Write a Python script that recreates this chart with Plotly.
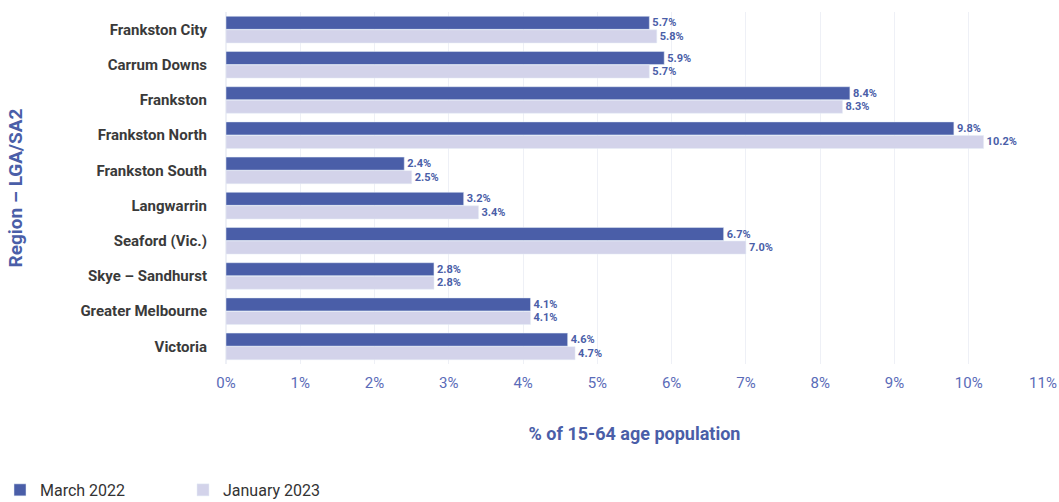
import plotly.graph_objects as go

regions = ["Frankston City", "Carrum Downs", "Frankston", "Frankston North", "Frankston South",
           "Langwarrin", "Seaford (Vic.)", "Skye – Sandhurst", "Greater Melbourne", "Victoria"]
march_2022 = [5.7, 5.9, 8.4, 9.8, 2.4, 3.2, 6.7, 2.8, 4.1, 4.6]
january_2023 = [5.8, 5.7, 8.3, 10.2, 2.5, 3.4, 7.0, 2.8, 4.1, 4.7]
x_ticks = list(range(0, 12))
x_tick_labels = [f"{v}%" for v in x_ticks]

dark = "#4a5ea8"
light = "#d3d3ea"
label_font = dict(family="Roboto", size=11, color=dark, weight="bold")

fig = go.Figure()
fig.add_trace(go.Bar(y=regions, x=march_2022, orientation="h", name="March 2022",
                     marker=dict(color=dark), texttemplate="%{x:.1f}%", textposition="outside",
                     textfont=label_font, cliponaxis=False))
fig.add_trace(go.Bar(y=regions, x=january_2023, orientation="h", name="January 2023",
                     marker=dict(color=light), texttemplate="%{x:.1f}%", textposition="outside",
                     textfont=label_font, cliponaxis=False))

fig.update_layout(
    width=1059, height=502,
    margin=dict(l=226, r=16, t=12, b=138),
    plot_bgcolor="white", paper_bgcolor="white",
    barmode="group", bargap=0.23, bargroupgap=0.04,
    font=dict(family="Roboto"),
    legend=dict(orientation="h", xref="container", yref="container",
                x=-0.017, xanchor="left", y=0.024, yanchor="middle",
                font=dict(family="Roboto", size=16, color="#333333"),
                entrywidth=186 - 48, entrywidthmode="pixels", traceorder="normal"),
    xaxis=dict(range=[0, 11], tickvals=x_ticks, ticktext=x_tick_labels, automargin=False,
               showgrid=True, gridcolor="#eef0f6", zeroline=True, zerolinecolor="#eef0f6",
               tickfont=dict(family="Roboto", size=15, color="#5a6bb8"), ticks="", ticklabelstandoff=8,
               title=dict(text="% of 15-64 age population", standoff=36,
                          font=dict(family="Roboto", size=18, color=dark, weight="bold"))),
    yaxis=dict(autorange="reversed", showgrid=False, ticks="", ticklabelstandoff=18, automargin=False,
               tickfont=dict(family="Roboto", size=15, color="#3a3a3a", weight="bold"),
               title=dict(text="Region – LGA/SA2", standoff=52,
                          font=dict(family="Roboto", size=19, color=dark, weight="bold"))),
)

fig.write_html("out.html")
